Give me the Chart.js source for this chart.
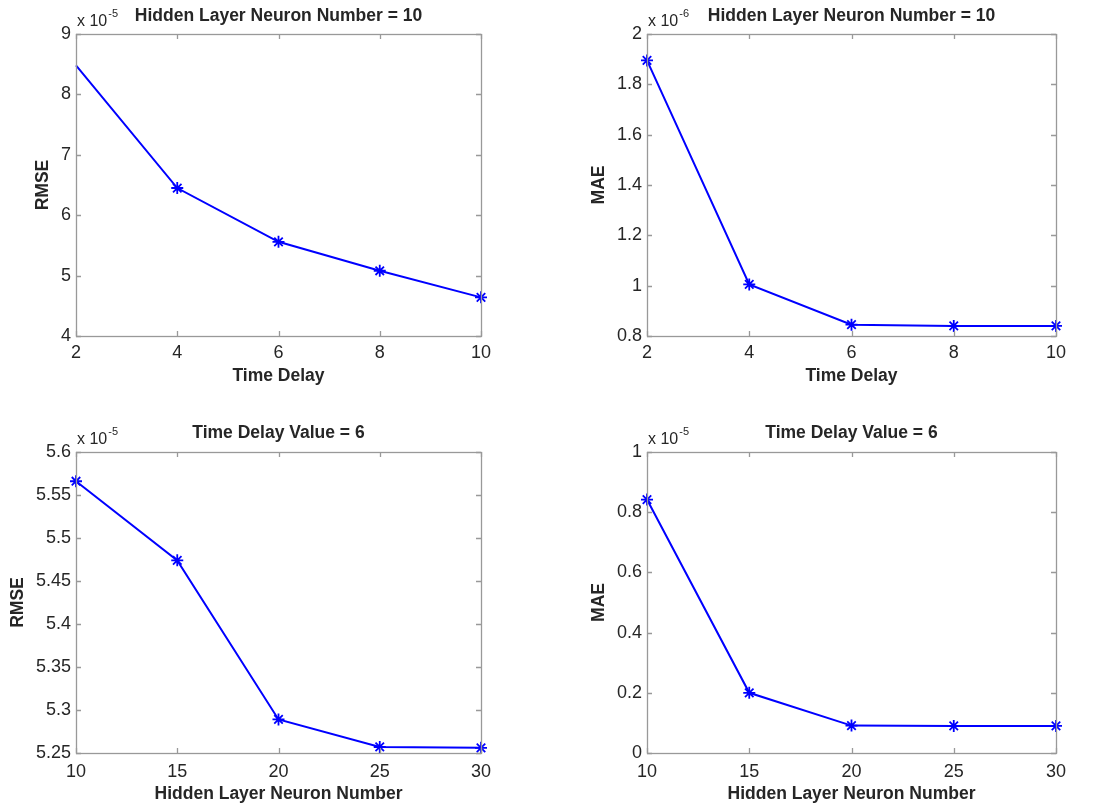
<!DOCTYPE html>
<html>
<head>
<meta charset="utf-8">
<script src="https://cdn.jsdelivr.net/npm/chart.js@4.4.1/dist/chart.umd.min.js"></script>
<style>
  html, body { margin: 0; padding: 0; background: #ffffff; }
  #page { position: relative; width: 1112px; height: 805px; background: #fff; }
  .cell { position: absolute; }
  .cell canvas { display: block; }
</style>
</head>
<body>
<div id="page">
  <div class="cell" style="left:0;top:0;width:556px;height:400px"><canvas id="c1"></canvas></div>
  <div class="cell" style="left:556px;top:0;width:556px;height:400px"><canvas id="c2"></canvas></div>
  <div class="cell" style="left:0;top:400px;width:556px;height:405px"><canvas id="c3"></canvas></div>
  <div class="cell" style="left:556px;top:400px;width:556px;height:405px"><canvas id="c4"></canvas></div>
</div>
<script>
// Time delay sweep (hidden layer neurons fixed at 10)
const timeDelays = [2, 4, 6, 8, 10];
const rmseByDelay = [8.48, 6.45, 5.56, 5.08, 4.64];       // x 10^-5
const maeByDelay = [1.895, 1.005, 0.845, 0.840, 0.840];   // x 10^-6

// Hidden layer neuron sweep (time delay fixed at 6)
const neuronCounts = [10, 15, 20, 25, 30];
const rmseByNeurons = [5.566, 5.474, 5.289, 5.257, 5.256]; // x 10^-5
const maeByNeurons = [0.842, 0.200, 0.091, 0.090, 0.090];  // x 10^-5

const TEXT = '#262626';
const BOX = '#999999';
const LINE = '#0000ff';
const FONT = "'Liberation Sans', Arial, sans-serif";

// Draws the full axes box with inward tick marks on all four sides,
// plus the "x 10^n" exponent note above the top-left corner.
const boxPlugin = {
  id: 'boxTicks',
  afterDraw(chart, args, opts) {
    const {ctx, chartArea: a, scales} = chart;
    const len = 5;
    ctx.save();
    ctx.strokeStyle = BOX;
    ctx.lineWidth = 1.3;
    ctx.beginPath();
    scales.x.ticks.forEach(t => {
      const px = Math.round(scales.x.getPixelForValue(t.value)) + 0.5;
      ctx.moveTo(px, a.bottom); ctx.lineTo(px, a.bottom - len);
      ctx.moveTo(px, a.top); ctx.lineTo(px, a.top + len);
    });
    scales.y.ticks.forEach(t => {
      const py = Math.round(scales.y.getPixelForValue(t.value)) + 0.5;
      ctx.moveTo(a.left, py); ctx.lineTo(a.left + len, py);
      ctx.moveTo(a.right, py); ctx.lineTo(a.right - len, py);
    });
    ctx.stroke();
    ctx.strokeRect(Math.round(a.left) + 0.5, Math.round(a.top) + 0.5,
                   Math.round(a.right - a.left), Math.round(a.bottom - a.top));
    // exponent label
    ctx.fillStyle = TEXT;
    ctx.textBaseline = 'alphabetic';
    ctx.textAlign = 'left';
    ctx.font = '16px ' + FONT;
    const base = 'x 10';
    const x0 = a.left + 1;
    const y0 = a.top - 8;
    ctx.fillText(base, x0, y0);
    const w = ctx.measureText(base).width;
    ctx.font = '11px ' + FONT;
    ctx.fillText(opts.exponent, x0 + w + 1, y0 - 9);
    ctx.restore();
  }
};

function makeChart(id, cfg) {
  const xs = cfg.xs, ys = cfg.ys;
  return new Chart(document.getElementById(id), {
    type: 'line',
    data: {
      datasets: [{
        data: xs.map((x, i) => ({x: x, y: ys[i]})),
        borderColor: LINE,
        backgroundColor: LINE,
        borderWidth: 2,
        pointStyle: 'star',
        pointRadius: cfg.pointRadius || 6,
        pointBorderWidth: 1.8,
        pointBorderColor: LINE,
        tension: 0,
        clip: false
      }]
    },
    options: {
      responsive: true,
      maintainAspectRatio: false,
      animation: false,
      events: [],
      layout: { padding: { left: 0, right: cfg.padRight, top: 0, bottom: 0 } },
      plugins: {
        legend: { display: false },
        tooltip: { enabled: false },
        title: {
          display: true,
          text: cfg.title,
          fullSize: false,
          color: TEXT,
          font: { family: FONT, size: 17.5, weight: 'bold' },
          padding: { top: cfg.titleTop, bottom: cfg.titleBottom }
        },
        boxTicks: { exponent: cfg.exponent }
      },
      scales: {
        x: {
          type: 'linear',
          min: xs[0], max: xs[xs.length - 1],
          afterBuildTicks: s => { s.ticks = xs.map(v => ({value: v})); },
          afterFit: s => { s.height = cfg.xHeight; },
          grid: { display: false, drawTicks: false },
          border: { display: false },
          ticks: { color: TEXT, padding: cfg.xTickPad, maxRotation: 0, autoSkip: false,
                   font: { family: FONT, size: 18 } },
          title: { display: true, text: cfg.xTitle, color: TEXT,
                   font: { family: FONT, size: 17.5, weight: 'bold' },
                   padding: { top: 0, bottom: cfg.xTitlePad } }
        },
        y: {
          type: 'linear',
          min: cfg.yMin, max: cfg.yMax,
          afterBuildTicks: s => { s.ticks = cfg.yTicks.map(v => ({value: v})); },
          afterFit: s => { s.width = cfg.yWidth; },
          grid: { display: false, drawTicks: false },
          border: { display: false },
          ticks: { color: TEXT, padding: 5, autoSkip: false,
                   font: { family: FONT, size: 18 },
                   callback: v => cfg.fmt(v) },
          title: { display: true, text: cfg.yTitle, color: TEXT,
                   font: { family: FONT, size: 17.5, weight: 'bold' },
                   padding: { top: cfg.yTitlePad, bottom: 0 } }
        }
      }
    },
    plugins: [boxPlugin]
  });
}

const rmseDelayTicks = [4, 5, 6, 7, 8, 9];
const maeDelayTicks = [0.8, 1, 1.2, 1.4, 1.6, 1.8, 2];
const rmseNeuronTicks = [5.25, 5.3, 5.35, 5.4, 5.45, 5.5, 5.55, 5.6];
const maeNeuronTicks = [0, 0.2, 0.4, 0.6, 0.8, 1];

const trim = v => String(parseFloat(v.toFixed(4)));

makeChart('c1', {
  xs: timeDelays, ys: rmseByDelay, yMin: 4, yMax: 9, yTicks: rmseDelayTicks,
  fmt: trim, title: 'Hidden Layer Neuron Number = 10', exponent: '-5',
  xTitle: 'Time Delay', yTitle: 'RMSE',
  padRight: 75, yWidth: 76, xHeight: 64, xTickPad: 6, xTitlePad: 13, yTitlePad: 33,
  titleTop: 6, titleBottom: 7,
  pointRadius: [0, 6, 6, 6, 6]
});
makeChart('c2', {
  xs: timeDelays, ys: maeByDelay, yMin: 0.8, yMax: 2, yTicks: maeDelayTicks,
  fmt: trim, title: 'Hidden Layer Neuron Number = 10', exponent: '-6',
  xTitle: 'Time Delay', yTitle: 'MAE',
  padRight: 56, yWidth: 91, xHeight: 64, xTickPad: 6, xTitlePad: 13, yTitlePad: 33,
  titleTop: 6, titleBottom: 7
});
makeChart('c3', {
  xs: neuronCounts, ys: rmseByNeurons, yMin: 5.25, yMax: 5.6, yTicks: rmseNeuronTicks,
  fmt: trim, title: 'Time Delay Value = 6', exponent: '-5',
  xTitle: 'Hidden Layer Neuron Number', yTitle: 'RMSE',
  padRight: 75, yWidth: 76, xHeight: 52, xTickPad: 8, xTitlePad: 0, yTitlePad: 8,
  titleTop: 23, titleBottom: 8
});
makeChart('c4', {
  xs: neuronCounts, ys: maeByNeurons, yMin: 0, yMax: 1, yTicks: maeNeuronTicks,
  fmt: trim, title: 'Time Delay Value = 6', exponent: '-5',
  xTitle: 'Hidden Layer Neuron Number', yTitle: 'MAE',
  padRight: 56, yWidth: 91, xHeight: 52, xTickPad: 8, xTitlePad: 0, yTitlePad: 33,
  titleTop: 23, titleBottom: 8
});
</script>
</body>
</html>
